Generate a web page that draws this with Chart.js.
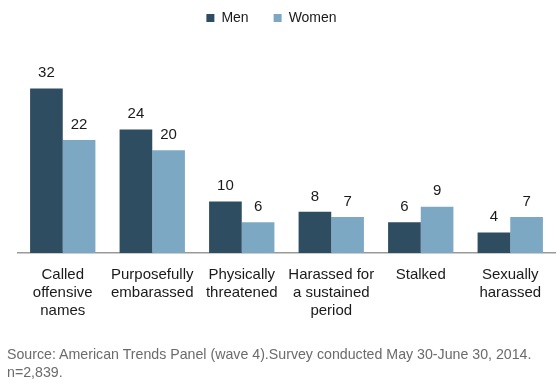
<!DOCTYPE html>
<html>
<head>
<meta charset="utf-8">
<script src="https://cdn.jsdelivr.net/npm/chart.js@4.4.0/dist/chart.umd.min.js"></script>
<style>
  html, body { margin: 0; padding: 0; background: #fff; }
  #wrap { position: relative; width: 560px; height: 392px; }
  #fuente {
    position: absolute; left: 7px; top: 345px;
    font-family: "Liberation Sans", Arial, sans-serif;
    font-size: 14.2px; line-height: 18px; color: #6b6b6b;
  }
</style>
</head>
<body>
<div id="wrap">
  <canvas id="grafico" width="560" height="392"></canvas>
  <div id="fuente">Source: American Trends Panel (wave 4).Survey conducted May 30-June 30, 2014.<br>n=2,839.</div>
</div>
<script>
// Datos
const categorias = [
    ['Called', 'offensive', 'names'],
    ['Purposefully', 'embarassed'],
    ['Physically', 'threatened'],
    ['Harassed for', 'a sustained', 'period'],
    ['Stalked'],
    ['Sexually', 'harassed']
];
const hombres = [32, 24, 10, 8, 6, 4];
const mujeres = [22, 20, 6, 7, 9, 7];

const fuente = '"Liberation Sans", Arial, sans-serif';

// Etiquetas de valor encima de cada barra
const etiquetasValor = {
    id: 'etiquetasValor',
    afterDatasetsDraw(chart){
        const ctx = chart.ctx;
        ctx.save();
        ctx.font = '15px ' + fuente;
        ctx.fillStyle = '#1a1a1a';
        ctx.textAlign = 'center';
        ctx.textBaseline = 'bottom';
        chart.data.datasets.forEach((ds, i) => {
            chart.getDatasetMeta(i).data.forEach((bar, j) => {
                ctx.fillText(ds.data[j], bar.x, bar.y - 8);
            });
        });
        ctx.restore();
    }
};

// mueve la leyenda un poco a la izquierda
const moverLeyenda = {
    id: 'moverLeyenda',
    afterLayout(chart){
        if(chart.legend) chart.legend.right -= 30;
    }
};

new Chart(document.getElementById('grafico'), {
    type: 'bar',
    data: {
        labels: categorias,
        datasets: [
            { label: 'Men', data: hombres, backgroundColor: '#2e4d61' },
            { label: 'Women', data: mujeres, backgroundColor: '#7da8c4' }
        ]
    },
    options: {
        responsive: false,
        animation: false,
        layout: { padding: { top: -14, left: 18, right: 5, bottom: 67 } },
        datasets: { bar: { categoryPercentage: 0.73, barPercentage: 1 } },
        plugins: {
            legend: {
                labels: {
                    font: { family: fuente, size: 14 },
                    color: '#1a1a1a',
                    boxWidth: 8,
                    boxHeight: 8,
                    padding: 25
                }
            },
            tooltip: { enabled: false }
        },
        scales: {
            x: {
                grid: { display: false },
                border: { color: '#9a9a9a', width: 1.5 },
                ticks: {
                    font: { family: fuente, size: 15, lineHeight: 1.2 },
                    color: '#1a1a1a',
                    padding: 5,
                    maxRotation: 0,
                    autoSkip: false
                }
            },
            y: { display: false, min: 0, max: 42.4 }
        }
    },
    plugins: [etiquetasValor, moverLeyenda]
});
</script>
</body>
</html>
